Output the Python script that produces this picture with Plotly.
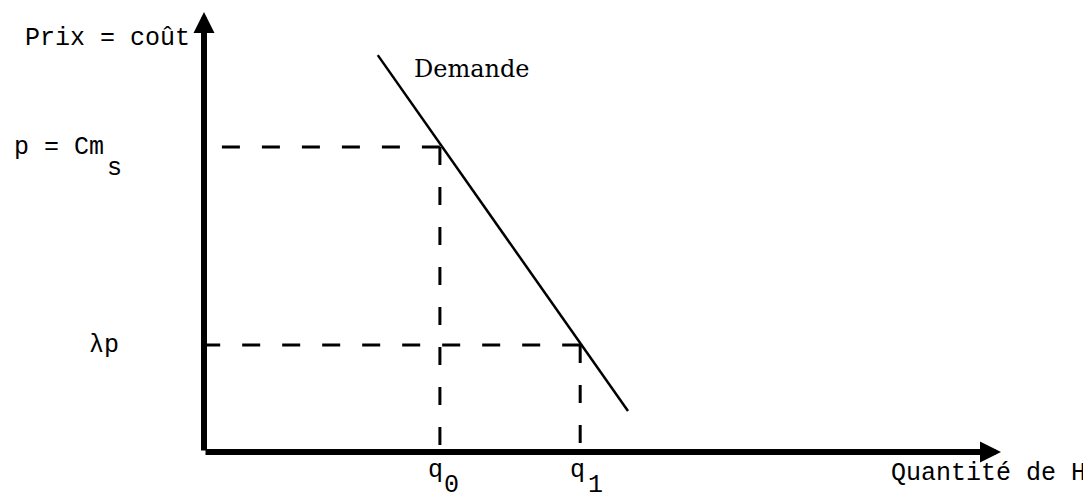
import plotly.graph_objects as go

# Values (abstract units: axes run from 0 to 10)
q_names = ["q", "q"]
q_subs = ["0", "1"]
q_values = [2.96, 4.72]
p_main = ["p = Cm", "λp"]
p_subs = ["s", ""]
p_values = [6.93, 2.43]
demand_x = [2.18, 5.32]
demand_y = [9.02, 0.93]
axis_max_x = 10.0
axis_max_y = 10.0

fig = go.Figure()

# Demand curve
fig.add_trace(go.Scatter(x=demand_x, y=demand_y, mode="lines",
                         line=dict(color="black", width=2.5),
                         hoverinfo="skip", showlegend=False))

dash = "18px,22px"
for q, p in zip(q_values, p_values):
    fig.add_trace(go.Scatter(x=[q, 0], y=[p, p], mode="lines",
                             line=dict(color="black", width=3, dash=dash),
                             hoverinfo="skip", showlegend=False))
    fig.add_trace(go.Scatter(x=[q, q], y=[p, 0], mode="lines",
                             line=dict(color="black", width=3, dash=dash),
                             hoverinfo="skip", showlegend=False))

mono = dict(family="Liberation Mono, Courier New, monospace", size=25, color="black")
serif = dict(family="DejaVu Serif, serif", size=24, color="black")

annotations = [
    dict(x=0, y=axis_max_y, ax=0, ay=0, xref="x", yref="y", axref="x", ayref="y",
         showarrow=True, arrowhead=2, arrowsize=0.7, arrowwidth=6, arrowcolor="black", text=""),
    dict(x=axis_max_x, y=0, ax=0, ay=0, xref="x", yref="y", axref="x", ayref="y",
         showarrow=True, arrowhead=2, arrowsize=0.7, arrowwidth=6, arrowcolor="black", text=""),
    dict(x=-0.15, y=9.40, xref="x", yref="y", text="Prix = coût", showarrow=False,
         xanchor="right", yanchor="middle", font=mono),
    dict(x=11.09, y=-0.48, xref="x", yref="y", text="Quantité de H", showarrow=False,
         xanchor="right", yanchor="middle", font=mono),
    dict(x=2.61, y=8.70, xref="x", yref="y", text="Demande", showarrow=False,
         xanchor="left", yanchor="middle", font=serif),
    dict(x=-2.41, y=p_values[0], xref="x", yref="y", text=p_main[0], showarrow=False,
         xanchor="left", yanchor="middle", font=mono),
    dict(x=-1.12, y=6.45, xref="x", yref="y", text=p_subs[0], showarrow=False,
         xanchor="center", yanchor="middle", font=mono),
    dict(x=-1.04, y=p_values[1], xref="x", yref="y", text=p_main[1], showarrow=False,
         xanchor="right", yanchor="middle", font=mono),
]
q_dx = [-0.05, -0.03]
s_dx = [0.15, 0.19]
s_y = [-0.75, -0.77]
for i, q in enumerate(q_values):
    annotations.append(dict(x=q + q_dx[i], y=-0.41, xref="x", yref="y", text=q_names[i],
                            showarrow=False, xanchor="center", yanchor="middle", font=mono))
    annotations.append(dict(x=q + s_dx[i], y=s_y[i], xref="x", yref="y", text=q_subs[i],
                            showarrow=False, xanchor="center", yanchor="middle", font=mono))

# page has an 8px body margin: shift the plot area so marks land where the reference shows them
fig.update_layout(
    width=1091, height=498,
    margin=dict(l=0, r=0, t=0, b=0),
    paper_bgcolor="white", plot_bgcolor="white",
    xaxis=dict(range=[-196 / 79.7, 895 / 79.7], visible=False, fixedrange=True),
    yaxis=dict(range=[-54 / 44, 444 / 44], visible=False, fixedrange=True),
    annotations=annotations,
    showlegend=False,
)

fig.write_html("out.html")
